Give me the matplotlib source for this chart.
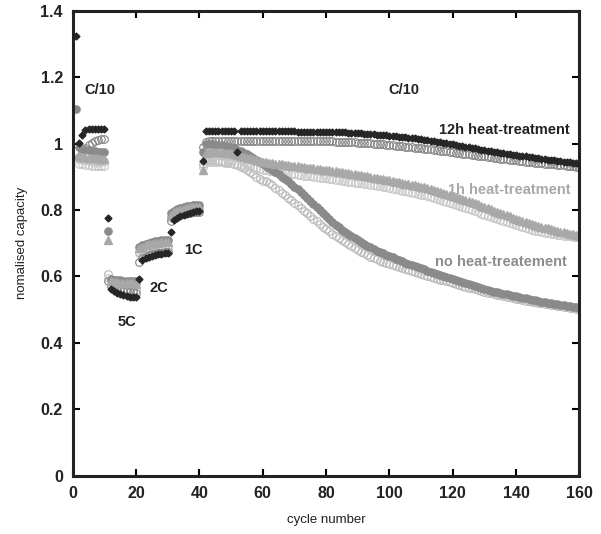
import numpy as np
import matplotlib
matplotlib.use("Agg")
import matplotlib.pyplot as plt

plt.rcParams["font.family"] = ["Liberation Sans", "DejaVu Sans"]

nan = np.nan
cycles = list(range(1, 161))

# 12h heat-treatment, filled diamonds
h12_fill = [
    1.325, 1.002, 1.027, 1.040, 1.044, 1.045, 1.045, 1.045, 1.045, 1.045,
    0.776, 0.562, 0.556, 0.551, 0.547, 0.544, 0.541, 0.539, 0.538, 0.537,
    0.593, 0.650, 0.655, 0.659, 0.662, 0.665, 0.667, 0.669, 0.670, 0.671,
    0.734, 0.771, 0.777, 0.782, 0.786, 0.789, 0.792, 0.794, 0.796, 0.797,
    0.948, 1.037, 1.037, 1.037, 1.037, 1.037, 1.037, 1.037, 1.037, 1.037,
    1.037, 0.975, 1.037, 1.037, 1.037, 1.037, 1.037, 1.037, 1.037, 1.037,
    1.037, 1.037, 1.037, 1.037, 1.037, 1.037, 1.037, 1.037, 1.037, 1.037,
    1.036, 1.036, 1.036, 1.036, 1.036, 1.036, 1.036, 1.036, 1.036, 1.036,
    1.035, 1.035, 1.035, 1.034, 1.034, 1.034, 1.033, 1.033, 1.032, 1.032,
    1.031, 1.030, 1.030, 1.029, 1.028, 1.027, 1.027, 1.026, 1.025, 1.024,
    1.023, 1.022, 1.021, 1.020, 1.019, 1.018, 1.017, 1.016, 1.014, 1.013,
    1.011, 1.010, 1.008, 1.007, 1.005, 1.004, 1.002, 1.001, 0.999, 0.998,
    0.996, 0.994, 0.993, 0.991, 0.989, 0.988, 0.986, 0.984, 0.982, 0.981,
    0.979, 0.978, 0.976, 0.975, 0.973, 0.972, 0.970, 0.969, 0.967, 0.966,
    0.964, 0.963, 0.962, 0.960, 0.959, 0.958, 0.956, 0.955, 0.954, 0.952,
    0.951, 0.950, 0.949, 0.948, 0.946, 0.945, 0.944, 0.943, 0.942, 0.940,
]

# 12h heat-treatment, open circles
h12_open = [
    nan, 0.960, 0.975, 0.988, 0.997, 1.003, 1.008, 1.011, 1.013, 1.015,
    0.585, 0.572, 0.566, 0.562, 0.559, 0.557, 0.555, 0.553, 0.552, 0.551,
    0.645, 0.655, 0.660, 0.664, 0.667, 0.669, 0.671, 0.672, 0.673, 0.674,
    0.766, 0.775, 0.781, 0.785, 0.788, 0.790, 0.792, 0.793, 0.794, 0.795,
    0.990, 1.005, 1.007, 1.008, 1.008, 1.008, 1.008, 1.008, 1.008, 1.008,
    1.008, 1.008, 1.008, 1.008, 1.008, 1.008, 1.008, 1.008, 1.008, 1.008,
    1.008, 1.008, 1.008, 1.008, 1.008, 1.008, 1.008, 1.008, 1.008, 1.008,
    1.007, 1.007, 1.007, 1.007, 1.007, 1.007, 1.007, 1.007, 1.007, 1.007,
    1.007, 1.007, 1.006, 1.006, 1.006, 1.005, 1.005, 1.004, 1.004, 1.003,
    1.003, 1.002, 1.001, 1.001, 1.000, 0.999, 0.998, 0.998, 0.997, 0.996,
    0.995, 0.994, 0.993, 0.992, 0.991, 0.990, 0.989, 0.988, 0.987, 0.986,
    0.985, 0.984, 0.983, 0.981, 0.980, 0.979, 0.978, 0.977, 0.975, 0.974,
    0.973, 0.972, 0.970, 0.969, 0.968, 0.967, 0.965, 0.964, 0.963, 0.962,
    0.960, 0.959, 0.958, 0.957, 0.955, 0.954, 0.953, 0.952, 0.951, 0.950,
    0.948, 0.947, 0.946, 0.945, 0.944, 0.943, 0.942, 0.941, 0.940, 0.939,
    0.938, 0.937, 0.936, 0.935, 0.934, 0.933, 0.932, 0.931, 0.930, 0.929,
]

# 1h heat-treatment, filled triangles
h1_fill = [
    nan, 0.962, 0.960, 0.959, 0.958, 0.957, 0.956, 0.956, 0.955, 0.955,
    0.711, 0.585, 0.583, 0.582, 0.581, 0.580, 0.580, 0.579, 0.579, 0.578,
    0.685, 0.690, 0.694, 0.697, 0.699, 0.701, 0.702, 0.703, 0.704, 0.704,
    0.785, 0.793, 0.798, 0.801, 0.804, 0.806, 0.808, 0.809, 0.810, 0.810,
    0.921, 0.972, 0.975, 0.975, 0.975, 0.974, 0.974, 0.973, 0.972, 0.971,
    0.969, 0.966, 0.963, 0.961, 0.958, 0.956, 0.953, 0.951, 0.948, 0.946,
    0.944, 0.943, 0.941, 0.940, 0.939, 0.937, 0.936, 0.935, 0.933, 0.932,
    0.931, 0.930, 0.928, 0.927, 0.926, 0.925, 0.924, 0.922, 0.921, 0.920,
    0.919, 0.917, 0.916, 0.914, 0.913, 0.912, 0.910, 0.909, 0.907, 0.906,
    0.904, 0.902, 0.901, 0.899, 0.897, 0.896, 0.894, 0.892, 0.891, 0.889,
    0.887, 0.885, 0.883, 0.881, 0.879, 0.877, 0.876, 0.874, 0.872, 0.870,
    0.868, 0.865, 0.863, 0.860, 0.858, 0.855, 0.852, 0.849, 0.846, 0.843,
    0.840, 0.837, 0.833, 0.830, 0.827, 0.823, 0.820, 0.817, 0.813, 0.810,
    0.806, 0.802, 0.798, 0.795, 0.791, 0.788, 0.784, 0.781, 0.777, 0.773,
    0.770, 0.767, 0.764, 0.761, 0.758, 0.755, 0.752, 0.750, 0.747, 0.745,
    0.742, 0.740, 0.737, 0.735, 0.733, 0.731, 0.729, 0.727, 0.725, 0.723,
]

# 1h heat-treatment, open circles
h1_open = [
    nan, 0.940, 0.937, 0.935, 0.934, 0.933, 0.932, 0.932, 0.931, 0.931,
    0.595, 0.575, 0.570, 0.567, 0.565, 0.563, 0.562, 0.561, 0.560, 0.560,
    0.670, 0.675, 0.678, 0.680, 0.682, 0.683, 0.684, 0.685, 0.686, 0.686,
    0.775, 0.783, 0.788, 0.791, 0.793, 0.795, 0.796, 0.797, 0.798, 0.798,
    0.930, 0.945, 0.946, 0.946, 0.945, 0.945, 0.944, 0.943, 0.942, 0.941,
    0.939, 0.937, 0.935, 0.933, 0.931, 0.929, 0.927, 0.925, 0.923, 0.921,
    0.919, 0.918, 0.916, 0.915, 0.914, 0.912, 0.911, 0.910, 0.908, 0.907,
    0.906, 0.905, 0.903, 0.902, 0.901, 0.900, 0.898, 0.897, 0.896, 0.895,
    0.893, 0.892, 0.891, 0.889, 0.888, 0.887, 0.885, 0.884, 0.882, 0.881,
    0.880, 0.878, 0.877, 0.875, 0.874, 0.872, 0.871, 0.869, 0.868, 0.866,
    0.864, 0.862, 0.860, 0.858, 0.856, 0.854, 0.852, 0.850, 0.848, 0.846,
    0.844, 0.841, 0.839, 0.836, 0.834, 0.831, 0.828, 0.825, 0.822, 0.819,
    0.816, 0.813, 0.809, 0.806, 0.803, 0.799, 0.796, 0.793, 0.789, 0.786,
    0.782, 0.779, 0.776, 0.772, 0.769, 0.766, 0.763, 0.760, 0.757, 0.754,
    0.751, 0.748, 0.746, 0.743, 0.741, 0.738, 0.736, 0.734, 0.732, 0.730,
    0.728, 0.727, 0.725, 0.724, 0.723, 0.722, 0.721, 0.720, 0.720, 0.719,
]

# no heat-treatment, filled circles
nh_fill = [
    1.104, 0.990, 0.985, 0.982, 0.980, 0.978, 0.977, 0.976, 0.975, 0.975,
    0.736, 0.592, 0.590, 0.589, 0.588, 0.587, 0.586, 0.586, 0.585, 0.585,
    0.690, 0.695, 0.699, 0.702, 0.704, 0.706, 0.708, 0.709, 0.710, 0.710,
    0.790, 0.798, 0.803, 0.806, 0.809, 0.811, 0.813, 0.814, 0.815, 0.816,
    0.975, 1.000, 0.999, 0.998, 0.997, 0.996, 0.995, 0.993, 0.991, 0.989,
    0.986, 0.982, 0.978, 0.973, 0.968, 0.963, 0.957, 0.951, 0.945, 0.939,
    0.933, 0.927, 0.921, 0.914, 0.907, 0.900, 0.893, 0.886, 0.878, 0.870,
    0.862, 0.853, 0.844, 0.835, 0.826, 0.817, 0.808, 0.799, 0.790, 0.781,
    0.772, 0.764, 0.756, 0.748, 0.741, 0.734, 0.727, 0.721, 0.715, 0.709,
    0.703, 0.698, 0.693, 0.688, 0.683, 0.678, 0.674, 0.670, 0.666, 0.662,
    0.658, 0.654, 0.650, 0.646, 0.642, 0.638, 0.635, 0.631, 0.628, 0.624,
    0.621, 0.617, 0.614, 0.611, 0.607, 0.604, 0.601, 0.598, 0.595, 0.592,
    0.589, 0.586, 0.583, 0.580, 0.577, 0.574, 0.571, 0.568, 0.565, 0.562,
    0.559, 0.557, 0.554, 0.552, 0.550, 0.548, 0.546, 0.544, 0.542, 0.540,
    0.538, 0.536, 0.534, 0.532, 0.530, 0.528, 0.526, 0.524, 0.522, 0.520,
    0.519, 0.517, 0.516, 0.514, 0.513, 0.511, 0.510, 0.508, 0.507, 0.505,
]

# no heat-treatment, open circles
nh_open = [
    nan, 0.955, 0.953, 0.951, 0.950, 0.949, 0.948, 0.948, 0.947, 0.947,
    0.608, 0.590, 0.585, 0.582, 0.580, 0.579, 0.578, 0.577, 0.576, 0.576,
    0.675, 0.680, 0.684, 0.687, 0.689, 0.690, 0.691, 0.692, 0.693, 0.693,
    0.780, 0.787, 0.792, 0.795, 0.797, 0.799, 0.800, 0.801, 0.802, 0.802,
    0.940, 0.952, 0.952, 0.951, 0.950, 0.949, 0.948, 0.946, 0.944, 0.942,
    0.939, 0.935, 0.930, 0.925, 0.919, 0.913, 0.907, 0.900, 0.893, 0.886,
    0.886, 0.880, 0.874, 0.867, 0.860, 0.852, 0.845, 0.837, 0.830, 0.822,
    0.814, 0.806, 0.798, 0.790, 0.782, 0.774, 0.766, 0.758, 0.750, 0.743,
    0.736, 0.729, 0.722, 0.716, 0.709, 0.703, 0.697, 0.691, 0.685, 0.680,
    0.675, 0.670, 0.665, 0.660, 0.656, 0.652, 0.648, 0.644, 0.641, 0.638,
    0.635, 0.631, 0.628, 0.625, 0.622, 0.619, 0.616, 0.613, 0.610, 0.607,
    0.604, 0.601, 0.598, 0.596, 0.593, 0.590, 0.588, 0.585, 0.582, 0.580,
    0.577, 0.574, 0.572, 0.569, 0.566, 0.564, 0.561, 0.558, 0.556, 0.553,
    0.551, 0.549, 0.547, 0.545, 0.543, 0.541, 0.539, 0.537, 0.535, 0.533,
    0.531, 0.529, 0.527, 0.525, 0.524, 0.522, 0.520, 0.519, 0.517, 0.516,
    0.514, 0.513, 0.511, 0.510, 0.508, 0.507, 0.505, 0.504, 0.502, 0.501,
]

x_ticks = [0, 20, 40, 60, 80, 100, 120, 140, 160]
y_ticks = [0, 0.2, 0.4, 0.6, 0.8, 1.0, 1.2, 1.4]
y_tick_labels = ["0", "0.2", "0.4", "0.6", "0.8", "1", "1.2", "1.4"]


def main():
    fig = plt.figure(figsize=(6.01, 5.34), dpi=100)
    ax = fig.add_axes([0.121, 0.109, 0.843, 0.871])

    # open circles first, filled markers on top
    ax.plot(cycles, nh_open, "o", ms=5.5, mfc="none", mec="#b8b8b8", mew=0.8)
    ax.plot(cycles, h1_open, "o", ms=5.5, mfc="none", mec="#c6c6c6", mew=0.8)
    ax.plot(cycles, h12_open, "o", ms=5.5, mfc="none", mec="#858585", mew=0.8)
    ax.plot(cycles, nh_fill, "o", ms=5.2, color="#8a8a8a", mec="#8a8a8a")
    ax.plot(cycles, h1_fill, "^", ms=5.3, color="#a8a8a8", mec="#a8a8a8")
    ax.plot(cycles, h12_fill, "D", ms=3.5, color="#262626", mec="#262626")

    ax.set_xlim(0, 160)
    ax.set_ylim(0, 1.4)
    ax.set_xticks(x_ticks)
    ax.set_yticks(y_ticks)
    ax.set_yticklabels(y_tick_labels)
    ax.tick_params(direction="in", length=5, width=1.5, top=True, right=True,
                   labelsize=11.5, pad=7)
    for lab in ax.get_xticklabels() + ax.get_yticklabels():
        lab.set_fontweight("bold")
        lab.set_color("#222222")
    for sp in ax.spines.values():
        sp.set_linewidth(2.2)
        sp.set_color("#222222")

    ax.set_xlabel("cycle number", fontsize=9.5, labelpad=10, color="#222222")
    ax.set_ylabel("nomalised capacity", fontsize=9.5, labelpad=9, color="#222222")

    tk = dict(fontsize=10.5, fontweight="bold", ha="center", va="center")
    ax.text(8.5, 1.162, "C/10", color="#222222", **tk)
    ax.text(104.5, 1.162, "C/10", color="#222222", **tk)
    ax.text(17, 0.464, "5C", color="#222222", **tk)
    ax.text(27.3, 0.566, "2C", color="#222222", **tk)
    ax.text(38, 0.681, "1C", color="#222222", **tk)
    ax.text(136.2, 1.042, "12h heat-treatment", color="#222222", **tk)
    ax.text(137.7, 0.861, "1h heat-treatment", color="#a8a8a8", **tk)
    ax.text(135.3, 0.644, "no heat-treatement", color="#8c8c8c", **tk)

    fig.savefig("out.png", dpi=100)


if __name__ == "__main__":
    main()
